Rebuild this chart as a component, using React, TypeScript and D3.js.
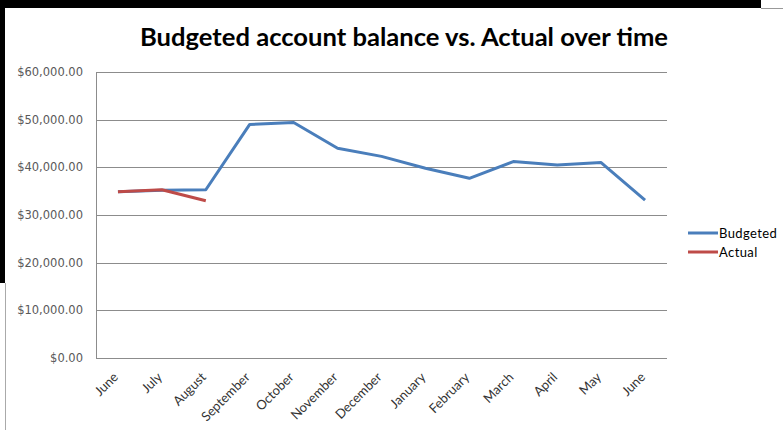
import React, { useEffect, useRef } from 'react';
import * as d3 from 'd3';

const months = ['June', 'July', 'August', 'September', 'October', 'November', 'December', 'January', 'February', 'March', 'April', 'May', 'June'];
const budgeted = [34900, 35200, 35300, 49000, 49400, 44000, 42300, 39800, 37700, 41200, 40500, 41000, 33100];
const actual = [34900, 35300, 33000];
const yTicks = [0, 10000, 20000, 30000, 40000, 50000, 60000];
const seriesNames = ['Budgeted', 'Actual'];
const seriesColors = ['#4A7EBB', '#BE4B48'];

const W = 783;
const H = 434;

export default function App() {
  const ref = useRef<SVGSVGElement>(null);

  useEffect(() => {
    if (!ref.current) return;
    const svg = d3.select(ref.current);
    svg.selectAll('*').remove();

    // frame leftovers from the screenshot
    svg.append('rect').attr('width', W).attr('height', H).attr('fill', '#fff');
    svg.append('rect').attr('x', 0).attr('y', 0).attr('width', 761).attr('height', 8).attr('fill', '#000');
    svg.append('line').attr('x1', 761).attr('x2', W).attr('y1', 8.5).attr('y2', 8.5).attr('stroke', '#999');
    svg.append('rect').attr('x', 0).attr('y', 0).attr('width', 5).attr('height', 283).attr('fill', '#000');
    svg.append('line').attr('x1', 5.5).attr('x2', 5.5).attr('y1', 283).attr('y2', 430).attr('stroke', '#aaa');

    const left = 96;
    const right = 667;
    const top = 72;
    const bottom = 358;

    const x = d3
      .scaleBand<number>()
      .domain(months.map((_, i) => i))
      .range([left, right]);
    const y = d3.scaleLinear().domain([0, 60000]).range([bottom, top]);
    const cx = (i: number) => (x(i) as number) + x.bandwidth() / 2;

    svg
      .append('text')
      .attr('x', 404)
      .attr('y', 46)
      .attr('text-anchor', 'middle')
      .attr('font-family', 'Lato, "Open Sans", sans-serif')
      .attr('font-weight', 'bold')
      .attr('font-size', 24)
      .attr('textLength', 528)
      .attr('lengthAdjust', 'spacingAndGlyphs')
      .attr('fill', '#000')
      .text('Budgeted account balance vs. Actual over time');

    // gridlines
    svg
      .append('g')
      .selectAll('line')
      .data(yTicks)
      .join('line')
      .attr('x1', left)
      .attr('x2', right)
      .attr('y1', d => Math.round(y(d)) + 0.5)
      .attr('y2', d => Math.round(y(d)) + 0.5)
      .attr('stroke', '#8c8c8c')
      .attr('stroke-width', 1);

    svg
      .append('line')
      .attr('x1', left + 0.5)
      .attr('x2', left + 0.5)
      .attr('y1', top)
      .attr('y2', bottom)
      .attr('stroke', '#8c8c8c');

    const fmt = d3.format('$,.2f');
    svg
      .append('g')
      .selectAll('text')
      .data(yTicks)
      .join('text')
      .attr('x', 83)
      .attr('y', d => y(d) + 4)
      .attr('text-anchor', 'end')
      .attr('font-family', '"DejaVu Sans", Verdana, sans-serif')
      .attr('font-size', 11.5)
      .attr('fill', '#595959')
      .text(d => fmt(d));

    svg
      .append('g')
      .selectAll('text')
      .data(months)
      .join('text')
      .attr('transform', (_, i) => `translate(${cx(i) + 1},${bottom + 20}) rotate(-45)`)
      .attr('text-anchor', 'end')
      .attr('font-family', 'Lato, "Open Sans", sans-serif')
      .attr('font-size', 13)
      .attr('fill', '#333')
      .text(d => d);

    const line = d3
      .line<number>()
      .x((_, i) => cx(i))
      .y(d => y(d));

    [budgeted, actual].forEach((s, k) => {
      svg
        .append('path')
        .datum(s)
        .attr('d', line)
        .attr('fill', 'none')
        .attr('stroke', seriesColors[k])
        .attr('stroke-width', 3)
        .attr('stroke-linejoin', 'round');
    });

    // legend
    const lg = svg.append('g');
    seriesNames.forEach((n, k) => {
      const ly = 233 + k * 19;
      lg.append('line')
        .attr('x1', 688)
        .attr('x2', 718)
        .attr('y1', ly)
        .attr('y2', ly)
        .attr('stroke', seriesColors[k])
        .attr('stroke-width', 3);
      lg.append('text')
        .attr('x', 719)
        .attr('y', ly + 4.5)
        .attr('font-family', 'Lato, "Open Sans", sans-serif')
        .attr('font-size', 13)
        .attr('letter-spacing', 0.4)
        .attr('fill', '#000')
        .text(n);
    });
  }, []);

  return (
    <div style={{ position: 'fixed', left: 0, top: 0 }}>
      <svg ref={ref} width={W} height={H} />
    </div>
  );
}
